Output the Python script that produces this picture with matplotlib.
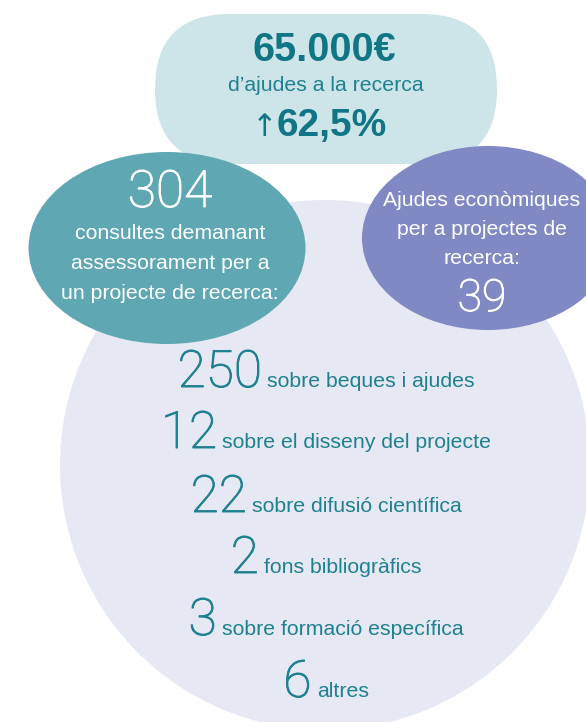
import matplotlib
matplotlib.use("Agg")
import matplotlib.pyplot as plt
import matplotlib.patheffects as pe
from matplotlib.patches import Ellipse, FancyBboxPatch

# headline figures
total_amount = "65.000€"
amount_caption = "d’ajudes a la recerca"
growth = "62,5%"

consultes_total = "304"
consultes_caption = ["consultes demanant", "assessorament per a", "un projecte de recerca:"]

ajudes_caption = ["Ajudes econòmiques", "per a projectes de", "recerca:"]
ajudes_total = "39"

# breakdown of the consultes
breakdown_values = ["250", "12", "22", "2", "3", "6"]
breakdown_labels = ["sobre beques i ajudes", "sobre el disseny del projecte",
                    "sobre difusió científica", "fons bibliogràfics",
                    "sobre formació específica", "altres"]

SANS = ["Liberation Sans", "DejaVu Sans"]
THIN = ["Roboto", "DejaVu Sans"]
dark_teal = "#107585"
text_teal = "#1f8190"

def thicken(c):
    # Roboto Thin is a bit too light, give it a hair of stroke
    return [pe.withStroke(linewidth=0.7, foreground=c)]

fig = plt.figure(figsize=(5.86, 7.22), dpi=100)
ax = fig.add_axes([0, 0, 1, 1])
ax.set_xlim(0, 586)
ax.set_ylim(722, 0)
ax.axis("off")

# shapes (back to front)
ax.add_patch(Ellipse((325, 465), 530, 530, color="#e6e8f4", lw=0))
ax.add_patch(FancyBboxPatch((155, 14), 342, 150, boxstyle="round,pad=0,rounding_size=75",
                            color="#cde5e9", lw=0))
ax.add_patch(Ellipse((167, 248), 277, 192, color="#5fa7b2", lw=0))
ax.add_patch(Ellipse((488, 238), 252, 184, color="#8189c4", lw=0))

# top block
ax.text(324, 61, total_amount, ha="center", va="baseline", fontsize=28.5,
        fontweight="bold", color=dark_teal, family=SANS)
ax.text(326, 91, amount_caption, ha="center", va="baseline", fontsize=15.3,
        color=text_teal, family=SANS)
ax.text(277, 136, growth, ha="left", va="baseline", fontsize=28,
        fontweight="bold", color=dark_teal, family=SANS)
ax.text(265, 136, "↑", ha="center", va="baseline", fontsize=22,
        color=dark_teal, family=["DejaVu Sans"])

# teal bubble
ax.text(170, 207, consultes_total, ha="center", va="baseline", fontsize=37,
        fontweight=100, color="white", family=THIN, path_effects=thicken("white"))
for i, line in enumerate(consultes_caption):
    ax.text(170, 239 + 30 * i, line, ha="center", va="baseline", fontsize=15.3,
            color="white", family=SANS)

# purple bubble
for i, line in enumerate(ajudes_caption):
    ax.text(482, 206 + 29 * i, line, ha="center", va="baseline", fontsize=15.3,
            color="white", family=SANS)
ax.text(482, 311, ajudes_total, ha="center", va="baseline", fontsize=32,
        fontweight=100, color="white", family=THIN, path_effects=thicken("white"))

# breakdown list, each row centred as a group
fig.canvas.draw()
r = fig.canvas.get_renderer()
baselines = [387, 448, 512, 573, 635, 697]
gap = 5
for val, lab, yb in zip(breakdown_values, breakdown_labels, baselines):
    tn = ax.text(0, yb, val, ha="left", va="baseline", fontsize=37, fontweight=100,
                 color=text_teal, family=THIN, path_effects=thicken(text_teal))
    tl = ax.text(0, yb, lab, ha="left", va="baseline", fontsize=15.3,
                 color=text_teal, family=SANS)
    wn = tn.get_window_extent(r).width
    wl = tl.get_window_extent(r).width
    x0 = 326 - (wn + gap + wl) / 2
    tn.set_x(x0)
    tl.set_x(x0 + wn + gap)

fig.savefig("out.png", dpi=100)
